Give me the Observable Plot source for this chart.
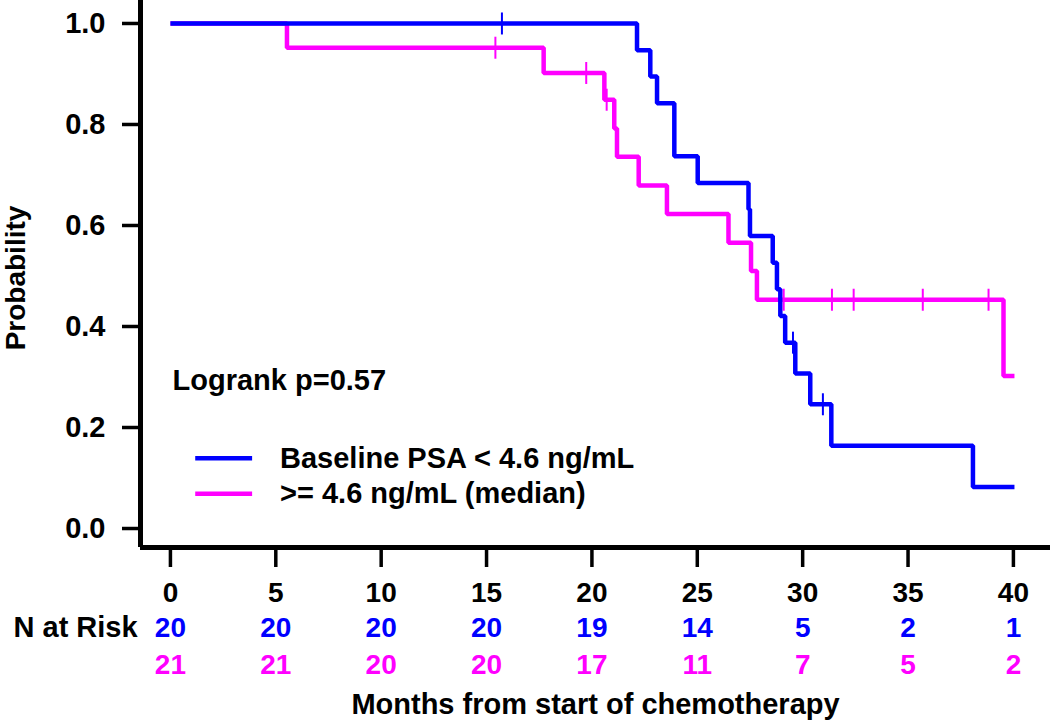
<!DOCTYPE html>
<html><head><meta charset="utf-8">
<script src="https://cdn.jsdelivr.net/npm/d3@7"></script>
<script src="https://cdn.jsdelivr.net/npm/@observablehq/plot@0.6"></script>
<style>
body{margin:0;background:#fff;}
#chart svg{display:block;}
#chart g[aria-label="x-axis tick label"], #chart g[aria-label="x-axis tick label"] text {font-family:'Liberation Sans Narrow','Arial Narrow',sans-serif; font-stretch:condensed;}
</style></head><body><div id="chart"></div>
<script>
// Kaplan-Meier step curves (months, survival probability)
const blueTimes = [0, 22.14, 22.77, 23.09, 23.91, 25.02, 27.43, 27.50, 28.58, 28.78, 28.94, 29.17, 29.65, 30.36, 31.36, 38.08, 40.05];
const blueSurv  = [1.0, 0.947, 0.895, 0.842, 0.737, 0.684, 0.632, 0.579, 0.526, 0.474, 0.421, 0.368, 0.307, 0.246, 0.164, 0.082, 0.082];
const pinkTimes = [0, 5.53, 17.71, 20.59, 21.06, 21.19, 22.22, 23.56, 26.48, 27.55, 27.83, 39.53, 40.05];
const pinkSurv  = [1.0, 0.952, 0.902, 0.849, 0.792, 0.736, 0.679, 0.623, 0.566, 0.510, 0.453, 0.302, 0.302];

// censoring marks
const blueCensorTimes = [15.73, 29.54, 30.96];
const blueCensorSurv  = [1.0, 0.368, 0.246];
const pinkCensorTimes = [15.42, 19.73, 20.70, 29.10, 31.39, 32.42, 35.70, 38.82];
const pinkCensorSurv  = [0.952, 0.902, 0.849, 0.453, 0.453, 0.453, 0.453, 0.453];

// number at risk table
const riskTimes = [0, 5, 10, 15, 20, 25, 30, 35, 40];
const blueRisk  = [20, 20, 20, 20, 19, 14, 5, 2, 1];
const pinkRisk  = [21, 21, 20, 20, 17, 11, 7, 5, 2];

// ticks
const xTicks = [0, 5, 10, 15, 20, 25, 30, 35, 40];
const yTicks = [0, 0.2, 0.4, 0.6, 0.8, 1.0];

// labels / legend
const legendLabels = ["Baseline PSA < 4.6 ng/mL", ">= 4.6 ng/mL (median)"];
const legendY = [0.139, 0.069];
const logrankText = "Logrank p=0.57";
const blue = "#0000ff", pink = "#ff00ff";

const xDomain = [-1.42, 41.76];
const yDomain = [-0.0376, 1.0455];

const rows = (ts, ss) => ts.map((t, i) => ({t, s: ss[i]}));
const blueData = rows(blueTimes, blueSurv);
const pinkData = rows(pinkTimes, pinkSurv);
const blueCens = rows(blueCensorTimes, blueCensorSurv);
const pinkCens = rows(pinkCensorTimes, pinkCensorSurv);
const blueRiskRows = riskTimes.map((t, i) => ({t, n: blueRisk[i]}));
const pinkRiskRows = riskTimes.map((t, i) => ({t, n: pinkRisk[i]}));

const censorSymbol = {draw(ctx, size) { const h = Math.sqrt(size / Math.PI); ctx.moveTo(0, -h); ctx.lineTo(0, h); }};

const sans = "'Liberation Sans', Arial, sans-serif";
const narrow = "'Liberation Sans Narrow', 'Arial Narrow', sans-serif";
const txt = {fontFamily: sans, fontWeight: "bold", fill: "#000"};

const chart = Plot.plot({
  width: 1050, height: 725,
  marginLeft: 140, marginRight: 0, marginTop: 0, marginBottom: 178,
  x: {domain: xDomain},
  y: {domain: yDomain},
  style: {fontFamily: sans, fontWeight: "bold", background: "#fff", overflow: "visible", color: "#000"},
  marks: [
    Plot.axisY({ticks: yTicks, tickSize: 18, tickPadding: 17, tickFormat: d => d.toFixed(1), strokeWidth: 3.5, fontSize: 29, fontFamily: sans, fontWeight: "bold", label: null}),
    Plot.axisX({ticks: xTicks, tickSize: 20, tickPadding: 15, strokeWidth: 3.5, fontSize: 28, fontFamily: narrow, fontWeight: "bold", label: null}),
    Plot.ruleX([xDomain[0]], {strokeWidth: 5, stroke: "#000"}),
    Plot.ruleY([yDomain[0]], {strokeWidth: 5, stroke: "#000"}),
    Plot.line(pinkData, {x: "t", y: "s", curve: "step-after", stroke: pink, strokeWidth: 4.5, strokeLinejoin: "miter", strokeLinecap: "butt"}),
    Plot.line(blueData, {x: "t", y: "s", curve: "step-after", stroke: blue, strokeWidth: 4.5, strokeLinejoin: "miter", strokeLinecap: "butt"}),
    Plot.dot(pinkCens, {x: "t", y: "s", symbol: censorSymbol, r: 11, fill: "none", stroke: pink, strokeWidth: 2}),
    Plot.dot(blueCens, {x: "t", y: "s", symbol: censorSymbol, r: 11, fill: "none", stroke: blue, strokeWidth: 2}),
    Plot.text([logrankText], {x: 0.1, y: 0.293, textAnchor: "start", fontSize: 29, ...txt}),
    Plot.ruleY([legendY[0]], {x1: 1.2, x2: 3.9, stroke: blue, strokeWidth: 4.5}),
    Plot.ruleY([legendY[1]], {x1: 1.2, x2: 3.9, stroke: pink, strokeWidth: 4.5}),
    Plot.text(legendLabels, {x: 5.2, y: (d, i) => legendY[i], textAnchor: "start", fontSize: 29, ...txt}),
    Plot.text(["Probability"], {frameAnchor: "left", dx: -124, dy: 4, rotate: -90, textAnchor: "middle", fontSize: 28, ...txt}),
    Plot.text(["N at Risk"], {frameAnchor: "bottom-left", dx: -127, dy: 89, textAnchor: "start", fontSize: 29, ...txt}),
    Plot.text(blueRiskRows, {x: "t", text: "n", frameAnchor: "bottom", dy: 89, fontSize: 28, fontFamily: sans, fontWeight: "bold", fill: blue}),
    Plot.text(pinkRiskRows, {x: "t", text: "n", frameAnchor: "bottom", dy: 126, fontSize: 28, fontFamily: sans, fontWeight: "bold", fill: pink}),
    Plot.text(["Months from start of chemotherapy"], {frameAnchor: "bottom", dy: 166, fontSize: 29, ...txt})
  ]
});
document.getElementById("chart").appendChild(chart);
</script></body></html>
